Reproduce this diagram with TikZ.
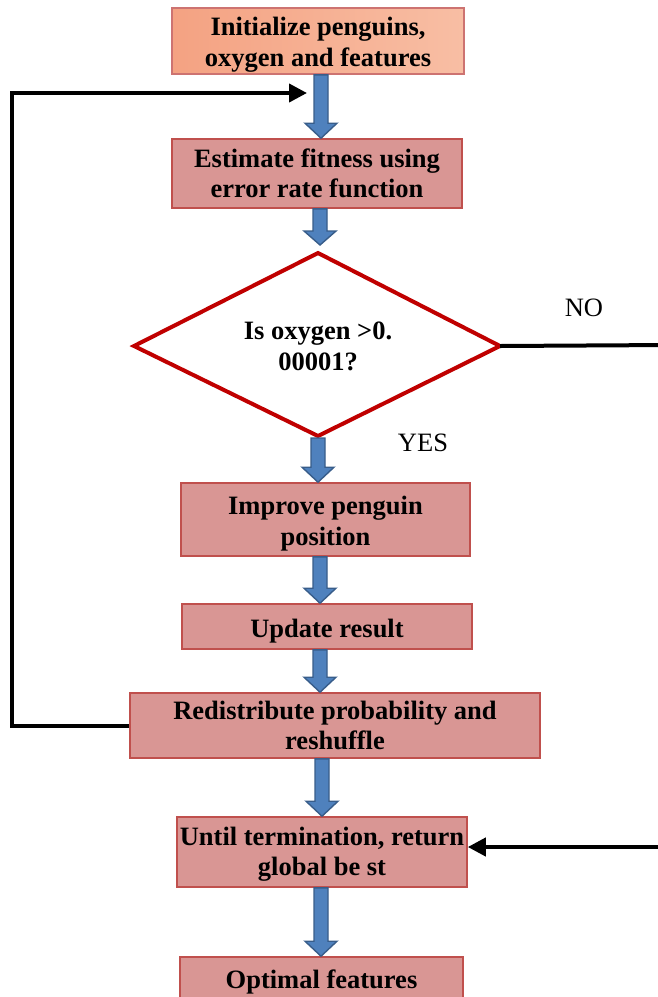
\documentclass[tikz,border=0pt]{standalone}
\usepackage{fontspec}
\setmainfont{Liberation Serif}
\usetikzlibrary{arrows.meta,calc}
\definecolor{boxfill}{HTML}{D99694}
\definecolor{boxline}{HTML}{C0504D}
\definecolor{darkred}{HTML}{C00000}
\definecolor{arrfill}{HTML}{4F81BD}
\definecolor{arrline}{HTML}{385D8A}
\definecolor{initA}{HTML}{F4A282}
\definecolor{initB}{HTML}{F8BEA4}
\newcommand\tstrut[1]{\rule{0pt}{#1}}
\newcommand\blockarr[3]{%
  \draw[blockarrow] let \p1=(#2.south), \p2=(#3.north) in
    (#1pt-7pt,\y1) -- (#1pt-7pt,\y2+15pt) -- (#1pt-16pt,\y2+15pt) --
    (#1pt,\y2) -- (#1pt+16pt,\y2+15pt) -- (#1pt+7pt,\y2+15pt) --
    (#1pt+7pt,\y1) -- cycle;}
\begin{document}
\begin{tikzpicture}[x=1pt,y=-1pt,
  procbox/.style={draw=boxline,line width=1.6pt,fill=boxfill,align=center,
    font=\fontsize{26.5}{30.5}\selectfont\bfseries,inner sep=0pt},
  blockarrow/.style={draw=arrline,line width=1.4pt,fill=arrfill,line join=miter},
  conn/.style={line width=4pt,black},
  plain/.style={font=\fontsize{26.5}{30}\selectfont}]
\clip (0,0) rectangle (658,997);
\fill[white] (0,0) rectangle (658,997);
% boxes
\node[procbox,draw=boxline!80,left color=initA,right color=initB,
  minimum width=292,minimum height=66] (init) at (318,41)
  {\tstrut{26pt}Initialize penguins,\\oxygen and features};
\node[procbox,minimum width=290,minimum height=69] (est) at (317,173.5)
  {Estimate fitness using\\error rate function};
% diamond
\coordinate (dl) at (134,346);
\coordinate (dt) at (318,253);
\coordinate (dr) at (500,346);
\coordinate (db) at (318,436);
\draw[darkred,line width=4pt,fill=white,line join=miter] (dl) -- (dt) -- (dr) -- (db) -- cycle;
\node[align=center,font=\fontsize{26.5}{31}\selectfont\bfseries] (dtext) at (318,346)
  {Is oxygen >0.\\00001?};
\node[procbox,minimum width=289,minimum height=73] (impr) at (325.5,519.5)
  {\tstrut{27pt}Improve penguin\\position};
\node[procbox,minimum width=290,minimum height=45] (upd) at (327,626.5)
  {\tstrut{27pt}Update result};
\node[procbox,minimum width=410,minimum height=65] (redis) at (335,725.5)
  {Redistribute probability and\\reshuffle};
\node[procbox,minimum width=290,minimum height=70] (until) at (322,852)
  {\tstrut{23pt}Until termination, return\\global be st};
\node[procbox,minimum width=283,minimum height=50] (opt) at (321.5,982)
  {Optimal features};
% block arrows
\blockarr{321}{init}{est}
\draw[blockarrow] let \p1=(est.south), \p2=(dt) in
    (320pt-7pt,\y1) -- (320pt-7pt,\y2+22pt) -- (320pt-16pt,\y2+22pt) --
    (320pt,\y2+8pt) -- (320pt+16pt,\y2+22pt) -- (320pt+7pt,\y2+22pt) --
    (320pt+7pt,\y1) -- cycle;
\draw[blockarrow] let \p1=(db), \p2=(impr.north) in
    (318pt-7pt,\y1-2pt) -- (318pt-7pt,\y2+15pt) -- (318pt-16pt,\y2+15pt) --
    (318pt,\y2) -- (318pt+16pt,\y2+15pt) -- (318pt+7pt,\y2+15pt) --
    (318pt+7pt,\y1-2pt) -- cycle;
\blockarr{320}{impr}{upd}
\blockarr{320}{upd}{redis}
\blockarr{322}{redis}{until}
\blockarr{321}{until}{opt}
% connectors
\coordinate (fbc) at (12,93);
\coordinate (fbt) at (307,93);
\draw[conn,-{Triangle[length=18pt,width=18pt]}] (redis.west) -| (fbc) -- (fbt);
\coordinate (nr) at (670,345);
\draw[conn] (dr) -- (nr);
\coordinate (rr) at (670,847);
\draw[conn,-{Triangle[length=18pt,width=18pt]}] (rr) -- (until.east |- rr);
% labels
\node[plain] (nolab) at (584,308) {NO};
\node[plain] (yeslab) at (423,443) {YES};
\end{tikzpicture}
\end{document}
